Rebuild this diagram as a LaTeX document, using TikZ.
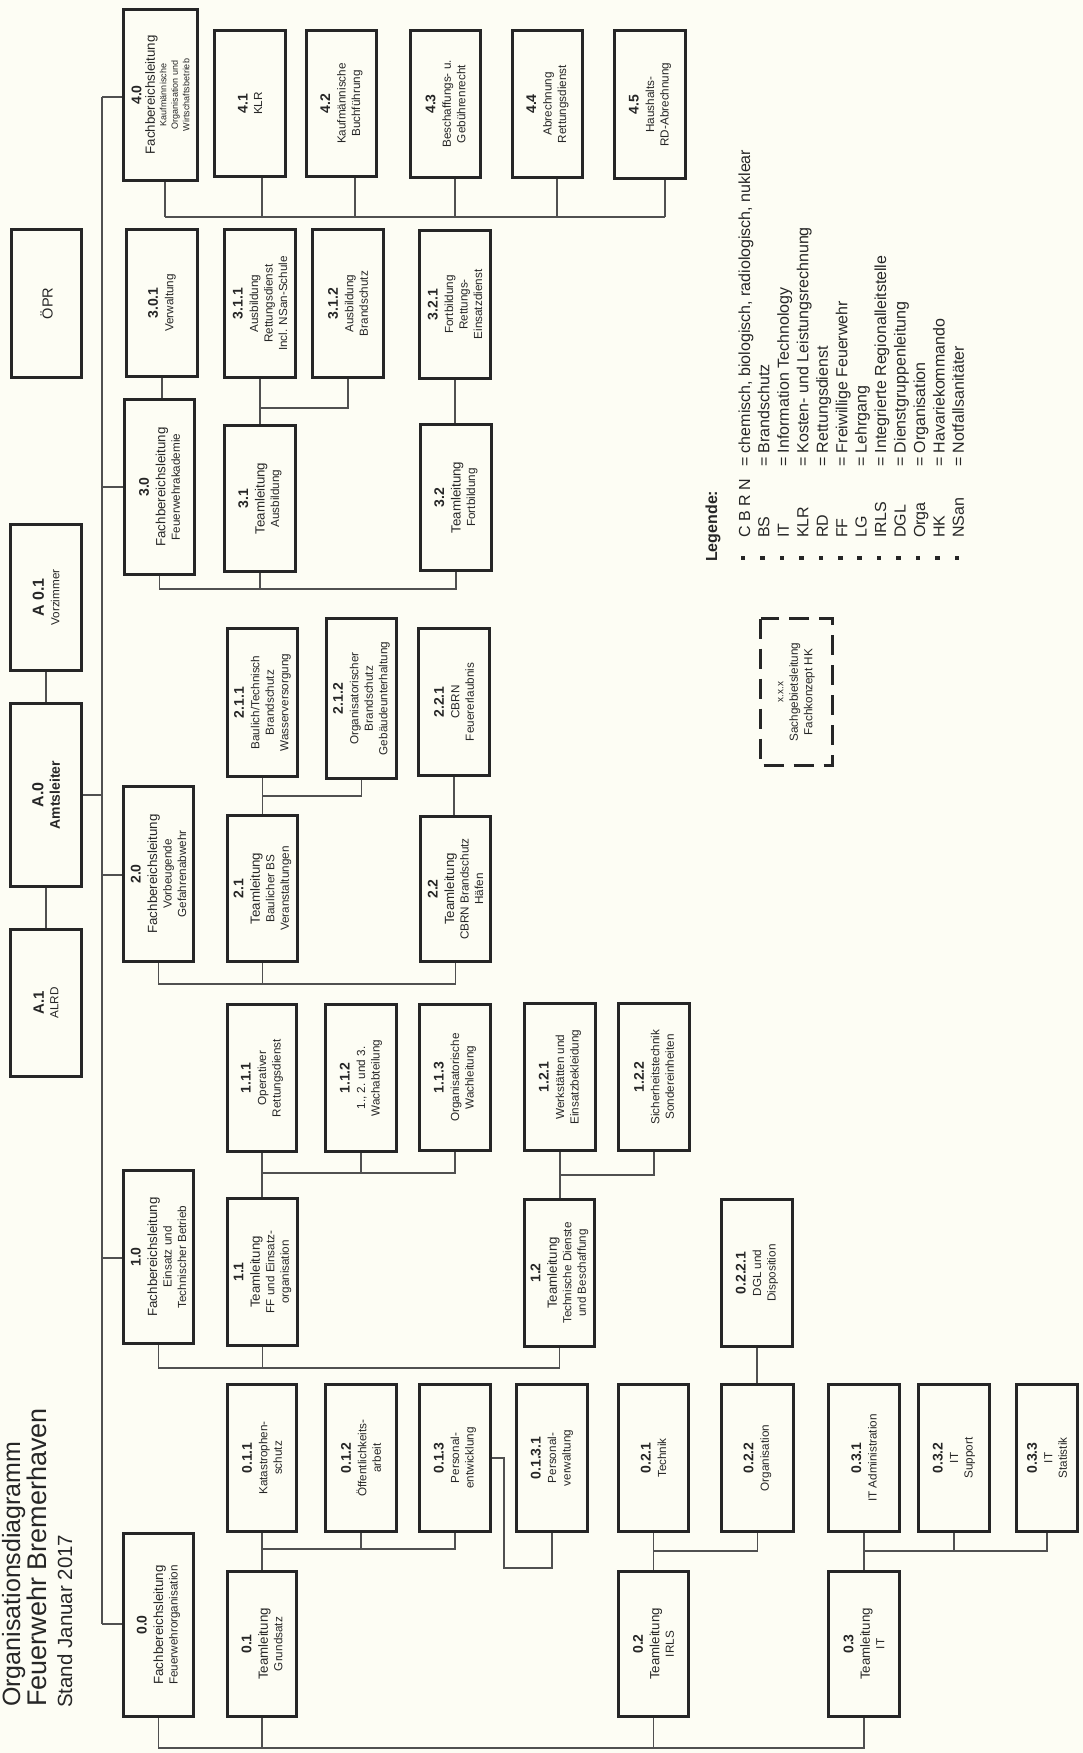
\documentclass[tikz,border=0pt]{standalone}
\usepackage{fontspec}
\setmainfont{Liberation Sans}
\definecolor{bg}{RGB}{253,253,244}
\definecolor{ink}{RGB}{38,38,38}
\definecolor{lne}{RGB}{80,80,80}
\newcommand\fnum{\fontsize{14}{16}\selectfont\bfseries}
\newcommand\fhd{\fontsize{13.3}{15}\selectfont}
\newcommand\fsb{\fontsize{11.7}{14.5}\selectfont}
\newcommand\fsm{\fontsize{9}{11.5}\selectfont}
\newcommand\bx[7][]{\node[box,#1,minimum width={#6-#4-3},minimum height={#5-#3-3}] (#2) at ({(#3+#5)/2},{(#4+#6)/2}) {#7};}
\newcommand\lgd[3]{%
  \node[bul] (lb#1) at ({743+19.45*#1},558) {};
  \node[txt,font=\fontsize{16}{19}\selectfont] (la#1) at ({750+19.45*#1},538) {#2};
  \node[txt,font=\fontsize{16}{19}\selectfont] (ld#1) at ({750+19.45*#1},467) {= #3};}
\begin{document}
\begin{tikzpicture}[x=1pt,y=-1pt,
  box/.style={draw=ink,line width=3pt,rotate=90,inner sep=0pt,align=center,text=ink,font=\fsb},
  conn/.style={draw=lne,line width=1.2pt},
  txt/.style={rotate=90,anchor=base west,inner sep=0pt,text=ink},
  bul/.style={fill=ink,inner sep=0pt,minimum size=4.5pt}]
\useasboundingbox (0,0) rectangle (1083,1753);
\fill[bg] (0,0) rectangle (1083,1753);
\clip (0,0) rectangle (1083,1753);

% ---- title
\node[txt,font=\fontsize{25}{28}\selectfont] (ti1) at (20,1707) {Organisationsdiagramm};
\node[txt,font=\fontsize{27}{30}\selectfont] (ti2) at (46,1707) {Feuerwehr Bremerhaven};
\node[txt,font=\fontsize{20.5}{24}\selectfont] (ti3) at (72,1708) {Stand Januar 2017};

% ---- top column
\bx[font=\fontsize{14.6}{17}\selectfont]{bOPR}{10}{228}{83}{379}{ÖPR}
\bx{bA01}{9}{523}{83}{672}{{\fontsize{16}{18}\selectfont\bfseries A 0.1}\\[1pt]Vorzimmer}
\bx{bA0}{9}{702}{83}{888}{{\fontsize{16}{18}\selectfont\bfseries A.0}\\[2pt]{\fontsize{14}{16}\selectfont\bfseries Amtsleiter}}
\bx{bA1}{9}{928}{83}{1078}{{\fontsize{15}{17}\selectfont\bfseries A.1}\\ALRD}

% ---- area 4
\bx[font=\fsm]{b40}{122}{8}{199}{182}{{\fnum 4.0}\\[2pt]{\fhd Fachbereichsleitung}\\Kaufmännische\\Organisation und\\Wirtschaftsbetrieb}
\bx{b41}{213}{29}{287}{178}{{\fnum 4.1}\\KLR}
\bx{b42}{305}{29}{378}{178}{{\fnum 4.2}\\[1pt]Kaufmännische\\Buchführung}
\bx{b43}{409}{29}{482}{179}{{\fnum 4.3}\\[1pt]Beschaffungs- u.\\Gebührenrecht}
\bx{b44}{511}{29}{584}{179}{{\fnum 4.4}\\[1pt]Abrechnung\\Rettungsdienst}
\bx{b45}{613}{29}{687}{180}{{\fnum 4.5}\\[1pt]Haushalts-\\RD-Abrechnung}

% ---- area 3
\bx{b301}{125}{228}{199}{378}{{\fnum 3.0.1}\\[1pt]Verwaltung}
\bx{b311}{223}{228}{297}{379}{{\fnum 3.1.1}\\[1pt]Ausbildung\\Rettungsdienst\\Incl. NSan-Schule}
\bx{b312}{311}{228}{385}{379}{{\fnum 3.1.2}\\[1pt]Ausbildung\\Brandschutz}
\bx{b321}{418}{229}{492}{380}{{\fnum 3.2.1}\\[1pt]Fortbildung\\Rettungs-\\Einsatzdienst}
\bx{b30}{123}{398}{196}{576}{{\fnum 3.0}\\[2pt]{\fhd Fachbereichsleitung}\\Feuerwehrakademie}
\bx{b31}{223}{424}{297}{573}{{\fnum 3.1}\\[2pt]{\fhd Teamleitung}\\Ausbildung}
\bx{b32}{419}{423}{493}{572}{{\fnum 3.2}\\[2pt]{\fhd Teamleitung}\\Fortbildung}

% ---- area 2
\bx{b211}{226}{627}{299}{778}{{\fnum 2.1.1}\\[1pt]Baulich/Technisch\\Brandschutz\\Wasserversorgung}
\bx{b212}{325}{617}{398}{780}{{\fnum 2.1.2}\\[1pt]Organisatorischer\\Brandschutz\\Gebäudeunterhaltung}
\bx{b221}{417}{627}{491}{777}{{\fnum 2.2.1}\\[1pt]CBRN\\Feuererlaubnis}
\bx{b20}{122}{785}{195}{963}{{\fnum 2.0}\\[2pt]{\fhd Fachbereichsleitung}\\Vorbeugende\\Gefahrenabwehr}
\bx{b21}{226}{814}{299}{963}{{\fnum 2.1}\\[2pt]{\fhd Teamleitung}\\Baulicher BS\\Veranstaltungen}
\bx{b22}{419}{815}{492}{963}{{\fnum 2.2}\\[2pt]{\fhd Teamleitung}\\CBRN Brandschutz\\Häfen}

% ---- area 1
\bx{b111}{226}{1003}{298}{1153}{{\fnum 1.1.1}\\[1pt]Operativer\\Rettungsdienst}
\bx{b112}{324}{1003}{398}{1153}{{\fnum 1.1.2}\\[1pt]1., 2. und 3.\\Wachabteilung}
\bx{b113}{418}{1003}{492}{1152}{{\fnum 1.1.3}\\[1pt]Organisatorische\\Wachleitung}
\bx{b121}{523}{1002}{597}{1152}{{\fnum 1.2.1}\\[1pt]Werkstätten und\\Einsatzbekleidung}
\bx{b122}{617}{1002}{691}{1152}{{\fnum 1.2.2}\\[1pt]Sicherheitstechnik\\Sondereinheiten}
\bx{b10}{122}{1169}{195}{1345}{{\fnum 1.0}\\[2pt]{\fhd Fachbereichsleitung}\\Einsatz und\\Technischer Betrieb}
\bx{b11}{226}{1197}{299}{1347}{{\fnum 1.1}\\[2pt]{\fhd Teamleitung}\\FF und Einsatz-\\organisation}
\bx{b12}{523}{1198}{596}{1348}{{\fnum 1.2}\\[2pt]{\fhd Teamleitung}\\Technische Dienste\\und Beschaffung}
\bx{b0221}{720}{1198}{794}{1348}{{\fnum 0.2.2.1}\\[1pt]DGL und\\Disposition}

% ---- area 0
\bx{b011}{226}{1383}{298}{1533}{{\fnum 0.1.1}\\[1pt]Katastrophen-\\schutz}
\bx{b012}{324}{1383}{398}{1533}{{\fnum 0.1.2}\\[1pt]Öffentlichkeits-\\arbeit}
\bx{b013}{418}{1383}{492}{1533}{{\fnum 0.1.3}\\[1pt]Personal-\\entwicklung}
\bx{b0131}{515}{1383}{589}{1533}{{\fnum 0.1.3.1}\\[1pt]Personal-\\verwaltung}
\bx{b021}{617}{1383}{690}{1533}{{\fnum 0.2.1}\\[1pt]Technik}
\bx{b022}{720}{1383}{795}{1533}{{\fnum 0.2.2}\\[1pt]Organisation}
\bx{b031}{827}{1383}{901}{1533}{{\fnum 0.3.1}\\[1pt]IT Administration}
\bx{b032}{917}{1383}{991}{1533}{{\fnum 0.3.2}\\[1pt]IT\\Support}
\bx{b033}{1015}{1383}{1079}{1533}{{\fnum 0.3.3}\\[1pt]IT\\Statistik}
\bx{b00}{122}{1532}{195}{1718}{{\fnum 0.0}\\[2pt]{\fhd Fachbereichsleitung}\\Feuerwehrorganisation}
\bx{b01}{226}{1570}{298}{1718}{{\fnum 0.1}\\[2pt]{\fhd Teamleitung}\\Grundsatz}
\bx{b02}{617}{1570}{690}{1718}{{\fnum 0.2}\\[2pt]{\fhd Teamleitung}\\IRLS}
\bx{b03}{827}{1570}{901}{1718}{{\fnum 0.3}\\[2pt]{\fhd Teamleitung}\\IT}

% ---- dashed legend box
\node[box,dash pattern=on 20pt off 10pt,minimum width=147,minimum height=72] (bxx) at (796.5,692)
  {{\fontsize{10}{12}\selectfont x.x.x}\\Sachgebietsleitung\\Fachkonzept HK};

% ---- legend
\node[txt,font=\fontsize{16}{19}\selectfont\bfseries] (leg) at (717,562) {Legende:};
\lgd{0}{C B R N}{chemisch, biologisch, radiologisch, nuklear}
\lgd{1}{BS}{Brandschutz}
\lgd{2}{IT}{Information Technology}
\lgd{3}{KLR}{Kosten- und Leistungsrechnung}
\lgd{4}{RD}{Rettungsdienst}
\lgd{5}{FF}{Freiwillige Feuerwehr}
\lgd{6}{LG}{Lehrgang}
\lgd{7}{IRLS}{Integrierte Regionalleitstelle}
\lgd{8}{DGL}{Dienstgruppenleitung}
\lgd{9}{Orga}{Organisation}
\lgd{10}{HK}{Havariekommando}
\lgd{11}{NSan}{Notfallsanitäter}

% ---- connectors
\coordinate (s4) at (102,97);
\coordinate (s3) at (102,487);
\coordinate (sA) at (102,795);
\coordinate (s2) at (102,875);
\coordinate (s1) at (102,1258);
\coordinate (s0) at (102,1624);
\draw[conn] (s4) -- (s0);
\draw[conn] (s4) -- (b40.north |- s4);
\draw[conn] (s3) -- (b30.north |- s3);
\draw[conn] (bA0.south |- sA) -- (sA);
\draw[conn] (s2) -- (b20.north |- s2);
\draw[conn] (s1) -- (b10.north |- s1);
\draw[conn] (s0) -- (b00.north |- s0);
\draw[conn] (bA01.west) -- (bA0.east);
\draw[conn] (bA0.west) -- (bA1.east);

% group 4
\coordinate (t40) at (165,217);
\coordinate (t41) at (262,217);
\coordinate (t42) at (355,217);
\coordinate (t43) at (455,217);
\coordinate (t44) at (557,217);
\coordinate (t45) at (665,217);
\draw[conn] (t40) -- (t45);
\foreach \n in {40,41,42,43,44,45} \draw[conn] (b\n.west -| t\n) -- (t\n);

% group 3
\coordinate (bus3) at (0,589);
\coordinate (bus31) at (0,408);
\draw[conn] (b30.west) -- (b30.west |- bus3) -| (b32.west);
\draw[conn] (b31.west) -- (b31.west |- bus3);
\draw[conn] (b301.west) -- (b30.east -| b301.west);
\draw[conn] (b321.west) -- (b32.east -| b321.west);
\draw[conn] (b311.west) -- (b31.east -| b311.west);
\draw[conn] (b311.west |- bus31) -| (b312.west);

% group 2
\coordinate (bus2) at (0,984);
\coordinate (bus21) at (0,796);
\draw[conn] (b20.west) -- (b20.west |- bus2) -| (b22.west);
\draw[conn] (b21.west) -- (b21.west |- bus2);
\draw[conn] (b211.west) -- (b21.east -| b211.west);
\draw[conn] (b211.west |- bus21) -| (b212.west);
\draw[conn] (b221.west) -- (b22.east -| b221.west);

% group 1
\coordinate (bus1) at (0,1368);
\coordinate (bus11) at (0,1173);
\coordinate (bus12) at (0,1175);
\draw[conn] (b10.west) -- (b10.west |- bus1) -| (b12.west);
\draw[conn] (b11.west) -- (b11.west |- bus1);
\draw[conn] (b111.west) -- (b11.east -| b111.west);
\draw[conn] (b111.west |- bus11) -| (b113.west);
\draw[conn] (b112.west) -- (b112.west |- bus11);
\draw[conn] (b121.west) -- (b12.east -| b121.west);
\draw[conn] (b121.west |- bus12) -| (b122.west);

% group 0
\coordinate (bus0) at (0,1748);
\coordinate (bus01) at (0,1549);
\coordinate (bus02) at (0,1551);
\coordinate (bus03) at (0,1551);
\draw[conn] (b00.west) -- (b00.west |- bus0) -| (b03.west);
\draw[conn] (b01.west) -- (b01.west |- bus0);
\draw[conn] (b02.west) -- (b02.west |- bus0);
\draw[conn] (b011.west) -- (b01.east -| b011.west);
\draw[conn] (b011.west |- bus01) -| (b013.west);
\draw[conn] (b012.west) -- (b012.west |- bus01);
\draw[conn] (b021.west) -- (b02.east -| b021.west);
\draw[conn] (b021.west |- bus02) -| (b022.west);
\draw[conn] (b0221.west) -- (b022.east -| b0221.west);
\draw[conn] (b031.west) -- (b03.east -| b031.west);
\draw[conn] (b031.west |- bus03) -| (b033.west);
\draw[conn] (b032.west) -- (b032.west |- bus03);
\coordinate (k1) at (504,1457);
\coordinate (k2) at (552,1568);
\draw[conn] (b013.south) -- (b013.south -| k1) |- (k2) -- (b0131.west);
\end{tikzpicture}
\end{document}
